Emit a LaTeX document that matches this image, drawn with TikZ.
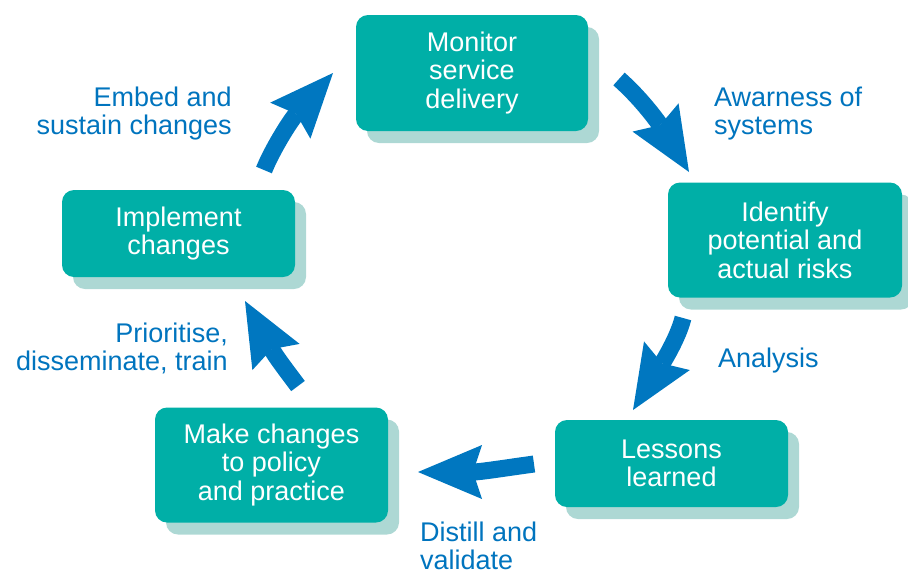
\documentclass[tikz,border=0pt]{standalone}
\usepackage{fontspec}
\setmainfont{Liberation Sans}
\usetikzlibrary{arrows.meta,shadows}
\definecolor{boxteal}{RGB}{0,175,167}
\definecolor{boxshade}{RGB}{173,216,212}
\definecolor{arrowblue}{RGB}{0,119,192}
\definecolor{labelblue}{RGB}{0,116,190}
\tikzset{
  stepbox/.style={fill=boxteal, rounded corners=12pt, text=white, align=center,
    inner sep=0pt, font=\fontsize{27}{28.5}\selectfont,
    drop shadow={shadow xshift=11pt, shadow yshift=-12pt, fill=boxshade, opacity=1}},
  cyclearrow/.style={draw=arrowblue, line width=17pt,
    -{Stealth[length=64pt,width=54pt,inset=9pt,line width=0pt,fill=arrowblue]}},
  steplabel/.style={text=labelblue, inner sep=0pt, font=\fontsize{27}{27.5}\selectfont}
}
\begin{document}
\begin{tikzpicture}[x=1pt,y=-1pt]
\useasboundingbox (0,0) rectangle (908,574);
% boxes
\node[stepbox, minimum width=232pt, minimum height=116pt] (mon) at (472,73) {Monitor\\service\\delivery};
\node[stepbox, minimum width=234pt, minimum height=115pt] (ide) at (785,240) {Identify\\potential and\\actual risks};
\node[stepbox, minimum width=233pt, minimum height=87pt] (les) at (671.5,463.5) {Lessons\\learned};
\node[stepbox, minimum width=233pt, minimum height=115pt] (mak) at (271.5,465) {Make changes\\to policy\\and practice};
\node[stepbox, minimum width=233pt, minimum height=87pt] (imp) at (178.5,233.5) {Implement\\changes};
% labels
\node[steplabel, align=right, anchor=north east] (lembed) at (232,87) {Embed and\\sustain changes};
\node[steplabel, align=left, anchor=north west] (laware) at (714,87) {Awarness of\\systems};
\node[steplabel, align=left, anchor=north west] (lanal) at (718,348) {Analysis};
\node[steplabel, align=left, anchor=north west] (ldist) at (420,522) {Distill and\\validate};
\node[steplabel, align=right, anchor=north east] (lprio) at (228,323) {Prioritise,\\disseminate, train};
% arrow end points
\coordinate (a1s) at (619,79);  \coordinate (a1e) at (689,172);
\coordinate (a2s) at (683,318); \coordinate (a2e) at (633,410);
\coordinate (a3s) at (534,464); \coordinate (a3e) at (418,472);
\coordinate (a4s) at (298,386); \coordinate (a4e) at (245,301);
\coordinate (a5s) at (264,170); \coordinate (a5e) at (333,73);
% arrows
\draw[cyclearrow] (a1s) .. controls (645,102) and (662,128) .. (a1e);
\draw[cyclearrow] (a2s) .. controls (678,338) and (663,362) .. (a2e);
\draw[cyclearrow] (a3s) .. controls (505,468) and (480,472) .. (a3e);
\draw[cyclearrow] (a4s) .. controls (286,370) and (276,357) .. (a4e);
\draw[cyclearrow] (a5s) .. controls (272,150) and (290,121) .. (a5e);
\end{tikzpicture}
\end{document}
